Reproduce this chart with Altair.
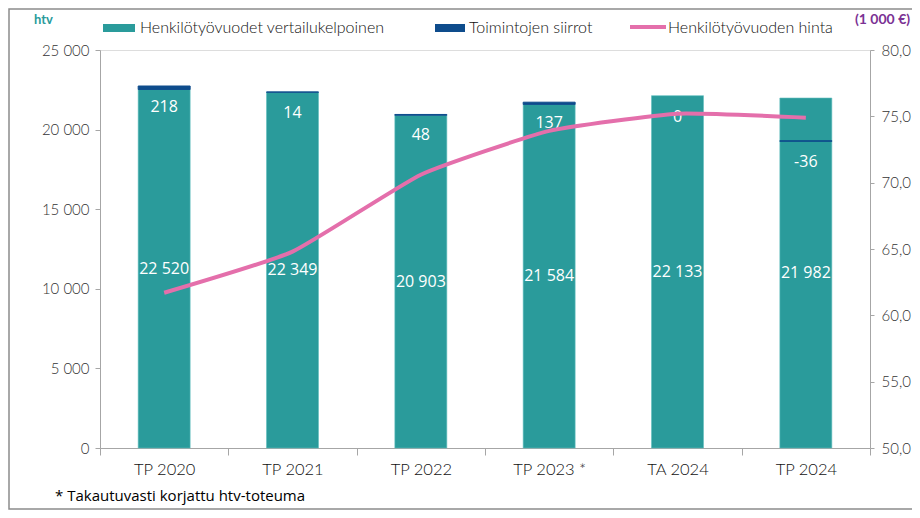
import altair as alt
import pandas as pd

categories = ["TP 2020", "TP 2021", "TP 2022", "TP 2023 *", "TA 2024", "TP 2024"]
htv_vertailukelpoinen = [22520, 22349, 20903, 21584, 22133, 21982]
toimintojen_siirrot = [218, 14, 48, 137, 0, -36]
# level at which the transfer segment is drawn in the original chart (estimated)
siirrot_taso = [22520, 22349, 20903, 21584, 22133, 19300]
htv_hinta = [61.7, 64.8, 70.6, 73.9, 75.2, 74.9]

TEAL = "#2A9B9B"
DARK = "#0E4C8C"
PINK = "#E46FAB"
PURPLE = "#7B3294"
AXIS_TXT = "#333333"
AXIS_LINE = "#A6A6A6"
LBL_FONT = "Lato"
DATA_FONT = "Open Sans"

df = pd.DataFrame({
    "cat": categories,
    "main": htv_vertailukelpoinen,
    "siirto": toimintojen_siirrot,
    "base": siirrot_taso,
    "hinta": htv_hinta,
})
df["end"] = df["base"] + df["siirto"]
df["top"] = df[["base", "end"]].max(axis=1)
df["main_lbl"] = [f"{v:,}".replace(",", " ") for v in htv_vertailukelpoinen]
df["s_lbl"] = [str(v) for v in toimintojen_siirrot]

xenc = alt.X(
    "cat:N", sort=categories, title=None,
    scale=alt.Scale(paddingInner=0, paddingOuter=0),
    axis=alt.Axis(tickBand="extent", labelAngle=0, labelFont=LBL_FONT, labelFontSize=16.5,
                  labelFontWeight=300, labelColor="#111111", labelPadding=6, tickSize=7,
                  tickColor=AXIS_LINE, domainColor=AXIS_LINE, grid=False),
)
xc = alt.X("cat:N", sort=categories, title=None, bandPosition=0.5)

yscale = alt.Scale(domain=[0, 25000], nice=False, zero=True)

base = alt.Chart(df)

bars = base.mark_bar(width={"band": 0.405}, color=TEAL, stroke="#5FBDBD", strokeWidth=0.6).encode(
    x=xenc,
    y=alt.Y("main:Q", scale=yscale, title=None,
            axis=alt.Axis(values=[0, 5000, 10000, 15000, 20000, 25000],
                          labelExpr="replace(format(datum.value, ','), ',', ' ')",
                          labelFont=LBL_FONT, labelFontSize=15, labelFontWeight=300,
                          labelColor=AXIS_TXT, tickSize=5, tickColor=AXIS_LINE,
                          domainColor=AXIS_LINE, labelPadding=6, grid=False)),
)

siirto_bars = base.mark_bar(width={"band": 0.405}, color=DARK, stroke=DARK, strokeWidth=1).encode(
    x=alt.X("cat:N", sort=categories, title=None),
    y=alt.Y("base:Q", scale=yscale, title=None),
    y2="end:Q",
    strokeOpacity=alt.condition("datum.siirto == 0", alt.value(0), alt.value(1)),
)

main_labels = base.transform_calculate(mid="datum.main / 2").mark_text(
    font=DATA_FONT, fontSize=16, color="white", baseline="middle").encode(
    x=xc,
    y=alt.Y("mid:Q", scale=yscale, title=None),
    text="main_lbl:N",
)

s_labels = base.mark_text(font=DATA_FONT, fontSize=16, color="white", baseline="middle", dy=21).encode(
    x=xc,
    y=alt.Y("top:Q", scale=yscale, title=None),
    text="s_lbl:N",
)

left = alt.layer(bars, siirto_bars, main_labels, s_labels)

line = base.mark_line(color=PINK, strokeWidth=4, interpolate="cardinal", tension=0.55).encode(
    x=xc,
    y=alt.Y("hinta:Q", title=None,
            scale=alt.Scale(domain=[50, 80], nice=False, zero=False),
            axis=alt.Axis(orient="right", values=[50, 55, 60, 65, 70, 75, 80],
                          labelExpr="replace(format(datum.value, '.1f'), '.', ',')",
                          labelFont=LBL_FONT, labelFontSize=15, labelFontWeight=300,
                          labelColor=AXIS_TXT, tickSize=4, tickColor=AXIS_LINE,
                          domainColor=AXIS_LINE, labelPadding=7, grid=False)),
)

one = pd.DataFrame({"a": [0]})
o = alt.Chart(one)

frame = o.mark_rect(fill=None, stroke="#8C8C8C", strokeWidth=1.5).encode(
    x=alt.value(-91), x2=alt.value(830), y=alt.value(-41), y2=alt.value(459))

leg_teal = o.mark_rect(color=TEAL).encode(x=alt.value(3), x2=alt.value(35), y=alt.value(-26), y2=alt.value(-18))
leg_teal_t = o.mark_text(text="Henkilötyövuodet vertailukelpoinen", font=LBL_FONT, fontSize=16,
                         fontWeight=300, color="#111111", align="left", baseline="middle").encode(
    x=alt.value(40), y=alt.value(-22))
leg_dark = o.mark_rect(color=DARK).encode(x=alt.value(335), x2=alt.value(365), y=alt.value(-26), y2=alt.value(-18))
leg_dark_t = o.mark_text(text="Toimintojen siirrot", font=LBL_FONT, fontSize=16, fontWeight=300,
                         color="#111111", align="left", baseline="middle").encode(x=alt.value(369), y=alt.value(-22))
leg_pink = o.mark_rule(color=PINK, strokeWidth=4).encode(x=alt.value(530), x2=alt.value(566), y=alt.value(-23))
leg_pink_t = o.mark_text(text="Henkilötyövuoden hinta", font=LBL_FONT, fontSize=16, fontWeight=300,
                         color="#111111", align="left", baseline="middle").encode(x=alt.value(568), y=alt.value(-22))

htv_t = o.mark_text(text="htv", font=LBL_FONT, fontSize=13, fontWeight="bold", color=TEAL,
                    align="left", baseline="middle").encode(x=alt.value(-66), y=alt.value(-30))
eur_t = o.mark_text(text="(1 000 €)", font=LBL_FONT, fontSize=14, fontWeight="bold", color=PURPLE,
                    align="left", baseline="middle").encode(x=alt.value(755), y=alt.value(-30))
foot_t = o.mark_text(text="* Takautuvasti korjattu htv-toteuma", font=DATA_FONT, fontSize=15,
                     color="#000000", align="left", baseline="middle").encode(x=alt.value(-45), y=alt.value(446))

chart = alt.layer(
    left, line, frame, leg_teal, leg_teal_t, leg_dark, leg_dark_t, leg_pink, leg_pink_t,
    htv_t, eur_t, foot_t,
).resolve_scale(y="independent").properties(
    width=770, height=398,
    padding={"left": 92, "top": 42, "right": 42, "bottom": 62},
    autosize=alt.AutoSizeParams(type="none"),
).configure_view(stroke=None).configure(background="white")

chart.save("out.html", embed_options={"renderer": "svg", "actions": False})
